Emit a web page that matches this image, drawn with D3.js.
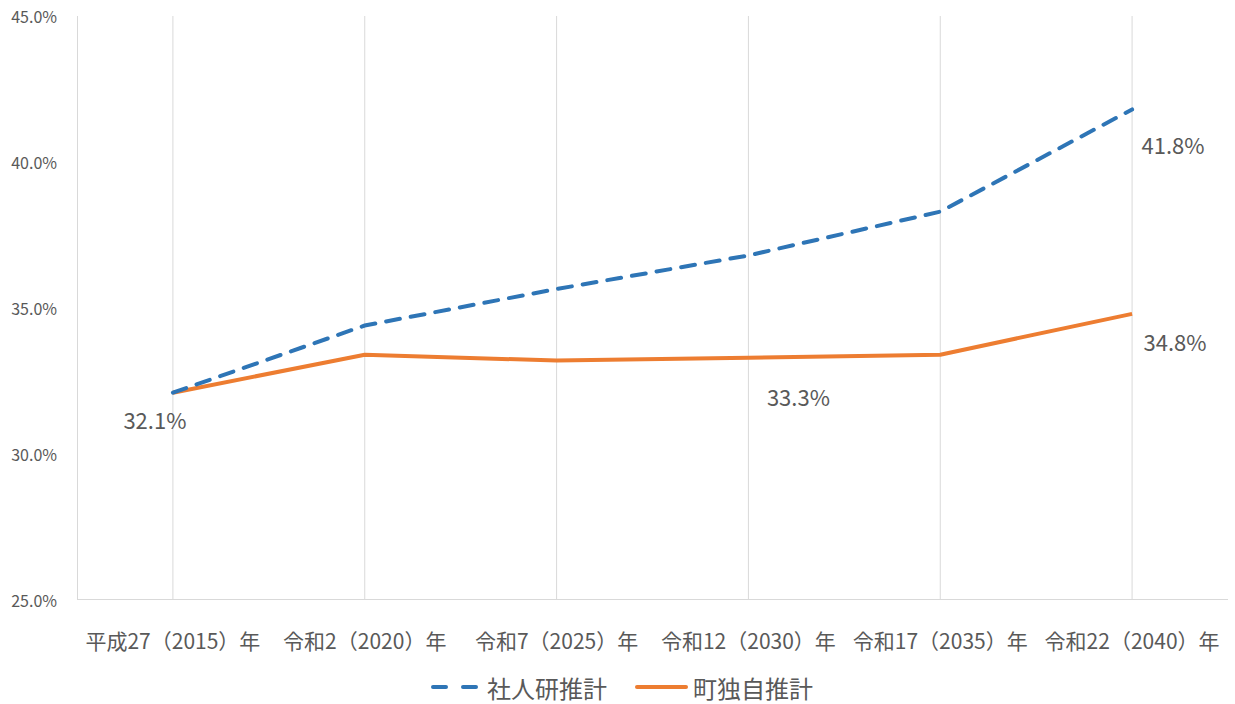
<!DOCTYPE html>
<html>
<head>
<meta charset="utf-8">
<script src="https://cdn.jsdelivr.net/npm/d3@7"></script>
<style>
body { margin: 0; background: #fff; }
text { font-family: "Noto Sans CJK JP", "Noto Sans", sans-serif; fill: #595959; }
</style>
</head>
<body>
<div id="chart"></div>
<script>
const categories = ["平成27（2015）年", "令和2（2020）年", "令和7（2025）年", "令和12（2030）年", "令和17（2035）年", "令和22（2040）年"];
const shajinken = [32.1, 34.4, 35.65, 36.8, 38.3, 41.8];
const dokuji = [32.1, 33.4, 33.2, 33.3, 33.4, 34.8];
const yTicks = [25, 30, 35, 40, 45];
const seriesNames = ["社人研推計", "町独自推計"];

var width = 1235, height = 704;
const margin = {top: 16, right: 7, bottom: 104, left: 77};

const svg = d3.select('#chart').append('svg').attr('width', width).attr('height', height);

const x = d3.scaleBand().domain(categories).range([margin.left, width - margin.right]);
const y = d3.scaleLinear().domain([25, 45]).range([height - margin.bottom, margin.top]);
const cx = d => x(d) + x.bandwidth() / 2;

// vertical gridlines
svg.append('g').selectAll('line')
    .data(categories).enter()
    .append('line')
    .attr('x1', d => cx(d)).attr('x2', d => cx(d))
    .attr('y1', y(45)).attr('y2', y(25))
    .attr('stroke', '#d9d9d9').attr('stroke-width', 1);

svg.append('line')
    .attr('x1', margin.left + 0.5).attr('x2', margin.left + 0.5)
    .attr('y1', y(45)).attr('y2', y(25))
    .attr('stroke', '#d9d9d9');
svg.append('line')
    .attr('x1', margin.left).attr('x2', width - margin.right)
    .attr('y1', y(25) - 0.5).attr('y2', y(25) - 0.5)
    .attr('stroke', '#d9d9d9');

// y labels
svg.append('g').selectAll('text')
    .data(yTicks).enter()
    .append('text')
    .attr('x', 57).attr('y', d => y(d))
    .attr('text-anchor', 'end').attr('dominant-baseline', 'central')
    .style('font-size', '16px')
    .text(d => d.toFixed(1) + '%');

// x labels
svg.append('g').selectAll('text')
    .data(categories).enter()
    .append('text')
    .attr('x', d => cx(d)).attr('y', 640)
    .attr('text-anchor', 'middle').attr('dominant-baseline', 'central')
    .style('font-size', '21px')
    .text(d => d);

const line = d3.line().x((d, i) => cx(categories[i])).y(d => y(d));

svg.append('path').datum(dokuji)
    .attr('d', line).attr('fill', 'none')
    .attr('stroke', '#ED7D31').attr('stroke-width', 4).attr('stroke-linejoin', 'round');

svg.append('path').datum(shajinken)
    .attr('d', line).attr('fill', 'none')
    .attr('stroke', '#2E75B6').attr('stroke-width', 4)
    .attr('stroke-dasharray', '14,11').attr('stroke-linecap', 'round');

// data labels
const labels = [
    {v: dokuji[0], i: 0, dx: -18, dy: 26},
    {v: dokuji[3], i: 3, dx: 50, dy: 38},
    {v: shajinken[5], i: 5, dx: 41, dy: 35},
    {v: dokuji[5], i: 5, dx: 43, dy: 27}
];
svg.append('g').selectAll('text')
    .data(labels).enter()
    .append('text')
    .attr('x', d => cx(categories[d.i]) + d.dx)
    .attr('y', d => y(d.v) + d.dy)
    .attr('text-anchor', 'middle').attr('dominant-baseline', 'central')
    .style('font-size', '22px')
    .text(d => d.v.toFixed(1) + '%');

// legend
const lg = svg.append('g');
lg.append('line').attr('x1', 433).attr('x2', 478).attr('y1', 687).attr('y2', 687)
    .attr('stroke', '#2E75B6').attr('stroke-width', 4)
    .attr('stroke-dasharray', '13,17').attr('stroke-linecap', 'round');
lg.append('text').attr('x', 487).attr('y', 687).attr('dominant-baseline', 'central')
    .style('font-size', '24px').text(seriesNames[0]);
lg.append('line').attr('x1', 637).attr('x2', 686).attr('y1', 687).attr('y2', 687)
    .attr('stroke', '#ED7D31').attr('stroke-width', 4).attr('stroke-linecap', 'round');
lg.append('text').attr('x', 693).attr('y', 687).attr('dominant-baseline', 'central')
    .style('font-size', '24px').text(seriesNames[1]);
</script>
</body>
</html>
